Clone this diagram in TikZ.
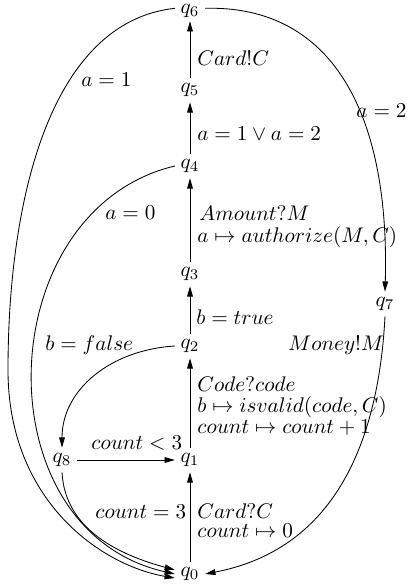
\documentclass[tikz,border=0pt]{standalone}
\usepackage{amssymb}
\usepackage{amsmath}
\usetikzlibrary{calc,arrows.meta}
\begin{document}
\begin{tikzpicture}[x=0.0166cm, y=-0.0166cm, >={Triangle[length=1.7mm,width=0.95mm]},
  state/.style={inner sep=2.5pt},
  lbl/.style={inner sep=0pt, anchor=west}]
\useasboundingbox (0,0) rectangle (406,588);
% states
\node[state] (q0) at (190,574) {$q_0$};
\node[state] (q1) at (190,460) {$q_1$};
\node[state] (q2) at (190,346) {$q_2$};
\node[state] (q3) at (190,274) {$q_3$};
\node[state] (q4) at (190,166) {$q_4$};
\node[state] (q5) at (190,90) {$q_5$};
\node[state, inner ysep=1.5pt] (q6) at (190,11) {$q_6$};
\node[state] (q7) at (385,304) {$q_7$};
\node[state] (q8) at (62,460) {$q_8$};
% spine
\draw[->] (q0) -- (q1);
\draw[->] (q1) -- (q2);
\draw[->] (q2) -- (q3);
\draw[->] (q3) -- (q4);
\draw[->] (q4) -- (q5);
\draw[->] (q5) -- (q6);
\draw[->] (q8) -- (q1);
% curved transitions
\coordinate (far) at (8,370);
\draw[->] (q6.170) .. controls (50,22) and (8,200) .. (far)
  .. controls (8,500) and (100,565) .. (q0.195);
\draw[->] (q6.10) .. controls (330,5) and (390,110) .. (q7.north);
\draw[->] (q4.west) .. controls (-10,210) and (-20,530) .. (q0.180);
\draw[->] (q2.west) .. controls (110,350) and (62,390) .. (q8.north);
\draw[->] (q8.south) .. controls (65,530) and (120,555) .. (q0.165);
\draw[->] (q7.south) .. controls (378,450) and (330,550) .. (q0.east);
% labels
\node[lbl] (l56) at (197,58) {$Card!C$};
\node[lbl] (l60) at (81,80) {$a=1$};
\node[lbl] (l67) at (356,111) {$a=2$};
\node[lbl] (l45) at (197,134) {$a=1\vee a=2$};
\node[lbl] (l40) at (105,213) {$a=0$};
\node[lbl] (l34a) at (199,213) {$Amount?M$};
\node[lbl] (l34b) at (197,237) {$a\mapsto authorize(M,C)$};
\node[lbl] (l23) at (196,317) {$b=true$};
\node[lbl] (l28) at (45,345) {$b=false$};
\node[lbl] (l70) at (288,345) {$Money!M$};
\node[lbl] (l12a) at (197,384) {$Code?code$};
\node[lbl] (l12b) at (197,407) {$b\mapsto isvalid(code,C)$};
\node[lbl] (l12c) at (197,428) {$count\mapsto count+1$};
\node[lbl] (l81) at (91,443) {$count<3$};
\node[lbl] (l80) at (95,512) {$count=3$};
\node[lbl] (l01a) at (197,511) {$Card?C$};
\node[lbl] (l01b) at (197,531) {$count\mapsto 0$};
\end{tikzpicture}
\end{document}
